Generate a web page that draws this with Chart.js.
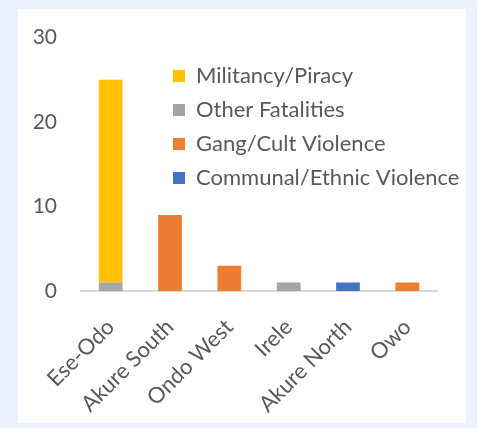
<!DOCTYPE html>
<html>
<head>
<meta charset="utf-8">
<script src="https://cdn.jsdelivr.net/npm/chart.js@4"></script>
<style>
  html, body { margin: 0; padding: 0; background: #e9f2fd; }
  #panel { position: absolute; left: 18px; top: 9px; width: 448px; height: 414px; background: #fff; }
</style>
</head>
<body>
<div id="panel"><canvas id="fatalitiesChart" width="448" height="414"></canvas></div>
<script>
    // values
    const lgas = ['Ese-Odo', 'Akure South', 'Ondo West', 'Irele', 'Akure North', 'Owo'];
    const militancy = [24, 0, 0, 0, 0, 0];
    const otherFatalities = [1, 0, 0, 1, 0, 0];
    const gangCult = [0, 9, 3, 0, 0, 1];
    const communalEthnic = [0, 0, 0, 0, 1, 0];
    const yTicks = [0, 10, 20, 30];

    const textColor = '#595959';
    const fontFamily = 'Lato, "Open Sans", sans-serif';

    // put the legend inside the plot, to the right of the first bar
    const moveLegend = {
        id: 'moveLegend',
        beforeDraw(chart) {
            const lg = chart.legend;
            if (!lg) return;
            const w = lg.width, h = lg.height;
            lg.left = 143;
            lg.top = 44;
            lg.right = lg.left + w;
            lg.bottom = lg.top + h;
        }
    };

    const ctx = document.getElementById('fatalitiesChart').getContext('2d');
    new Chart(ctx, {
        type: 'bar',
        data: {
            labels: lgas,
            datasets: [
                { label: 'Communal/Ethnic Violence', data: communalEthnic, backgroundColor: '#4472c4' },
                { label: 'Gang/Cult Violence', data: gangCult, backgroundColor: '#ed7d31' },
                { label: 'Other Fatalities', data: otherFatalities, backgroundColor: '#a5a5a5' },
                { label: 'Militancy/Piracy', data: militancy, backgroundColor: '#ffc000' }
            ]
        },
        options: {
            responsive: false,
            animation: false,
            devicePixelRatio: 1,
            layout: { padding: { left: 0, right: 29, top: 25, bottom: 0 } },
            datasets: {
                bar: { categoryPercentage: 1, barPercentage: 0.4, borderWidth: 0 }
            },
            plugins: {
                tooltip: { enabled: false },
                legend: {
                    position: 'chartArea',
                    align: 'start',
                    reverse: true,
                    labels: {
                        boxWidth: 12,
                        boxHeight: 12,
                        padding: 12,
                        color: textColor,
                        font: { family: fontFamily, size: 22 }
                    }
                }
            },
            scales: {
                x: {
                    stacked: true,
                    grid: { display: false },
                    border: { display: true, color: '#d9d9d9', width: 2 },
                    ticks: {
                        color: textColor,
                        font: { family: fontFamily, size: 22 },
                        minRotation: 45,
                        maxRotation: 45,
                        padding: 15,
                        autoSkip: false
                    },
                    afterFit(scale) { scale.height = 132; }
                },
                y: {
                    stacked: true,
                    min: 0,
                    max: 30,
                    grid: { display: false },
                    border: { display: false },
                    afterBuildTicks(scale) { scale.ticks = yTicks.map(v => ({ value: v })); },
                    ticks: {
                        color: textColor,
                        font: { family: fontFamily, size: 21 },
                        padding: 16
                    },
                    afterFit(scale) { scale.width = 63; }
                }
            }
        },
        plugins: [moveLegend]
    });
</script>
</body>
</html>
